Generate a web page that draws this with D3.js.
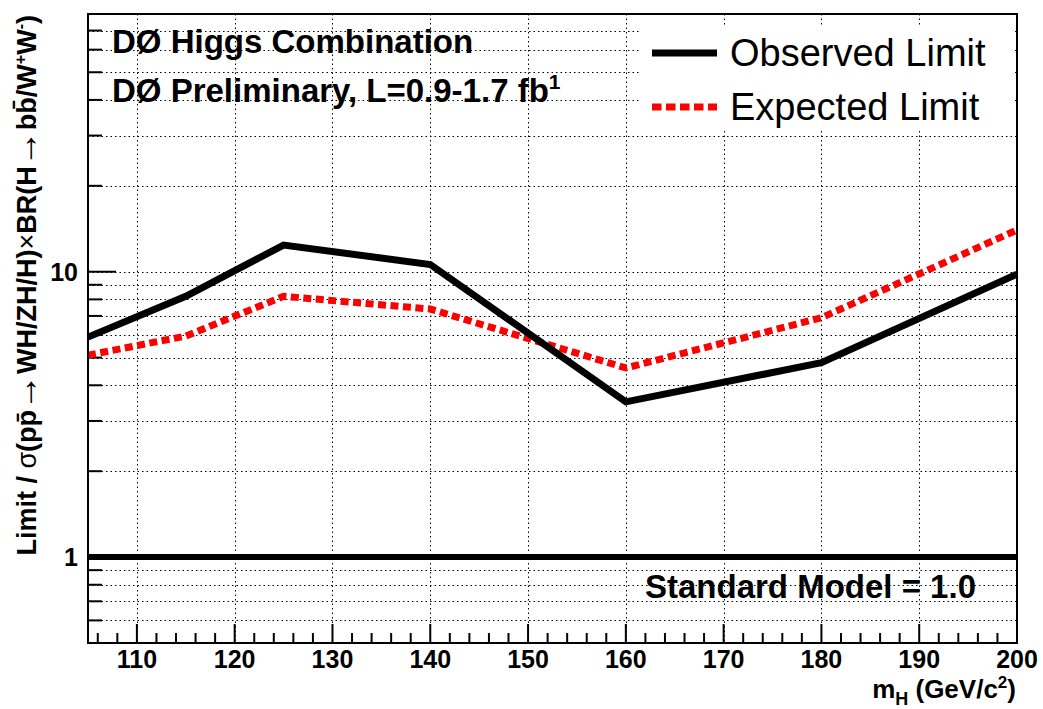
<!DOCTYPE html>
<html>
<head>
<meta charset="utf-8">
<script src="https://cdn.jsdelivr.net/npm/d3@7"></script>
<style>
  html, body { margin: 0; padding: 0; background: #fff; }
  svg text { font-family: "Liberation Sans", Arial, Helvetica, sans-serif; }
</style>
</head>
<body>
<svg id="chart" width="1043" height="709"></svg>
<script>
// Higgs mass points (GeV/c^2)
const masses = [105, 115, 125, 140, 160, 180, 200];
// Limit / SM ratio
const observedLimit = [5.9, 8.2, 12.4, 10.6, 3.5, 4.8, 9.8];
const expectedLimit = [5.1, 5.95, 8.2, 7.4, 4.6, 6.9, 14.0];
const smValue = 1.0;

const xMajorTicks = [110, 120, 130, 140, 150, 160, 170, 180, 190, 200];
const yMajorTicks = [1, 10];
const yTickLabels = ["1", "10"];
const yMinorTicks = [0.6, 0.7, 0.8, 0.9, 2, 3, 4, 5, 6, 7, 8, 9, 20, 30, 40, 50, 60, 70];
const legendLabels = ["Observed Limit", "Expected Limit"];

const svg = d3.select("#chart");
const W = 1043, H = 709;
const m = { left: 88, right: 1017, top: 14, bottom: 643 };

const x = d3.scaleLinear().domain([105, 200]).range([m.left, m.right]);
const y = d3.scaleLog().domain([0.5, 80]).range([m.bottom, m.top]);

svg.append("rect").attr("width", W).attr("height", H).attr("fill", "#fff");

// grid
const grid = svg.append("g").attr("stroke", "#000").attr("stroke-width", 1)
  .attr("stroke-dasharray", "1.5,3");
grid.selectAll("line.gx").data(xMajorTicks.filter(d => d < 200)).join("line")
  .attr("x1", d => Math.round(x(d)) + 0.5).attr("x2", d => Math.round(x(d)) + 0.5)
  .attr("y1", m.top).attr("y2", m.bottom);
grid.selectAll("line.gy").data(yMinorTicks.concat(yMajorTicks)).join("line")
  .attr("x1", m.left).attr("x2", m.right)
  .attr("y1", d => Math.round(y(d)) + 0.5).attr("y2", d => Math.round(y(d)) + 0.5);

// axes ticks
const ax = svg.append("g").attr("stroke", "#000").attr("stroke-width", 2);
const xMinor = d3.range(106, 200, 2).filter(d => d % 10 !== 0);
ax.selectAll("line.xmaj").data(xMajorTicks).join("line")
  .attr("x1", d => x(d)).attr("x2", d => x(d)).attr("y1", m.bottom).attr("y2", m.bottom - 19);
ax.selectAll("line.xmin").data(xMinor).join("line")
  .attr("x1", d => x(d)).attr("x2", d => x(d)).attr("y1", m.bottom).attr("y2", m.bottom - 10);
ax.selectAll("line.ymaj").data(yMajorTicks).join("line")
  .attr("x1", m.left).attr("x2", m.left + 28).attr("y1", d => y(d)).attr("y2", d => y(d));
ax.selectAll("line.ymin").data(yMinorTicks).join("line")
  .attr("x1", m.left).attr("x2", m.left + 14).attr("y1", d => y(d)).attr("y2", d => y(d));

// tick labels
svg.selectAll("text.xl").data(xMajorTicks).join("text")
  .attr("x", d => x(d)).attr("y", 668).attr("text-anchor", "middle")
  .attr("font-size", 25).attr("font-weight", "bold").text(d => d);
svg.selectAll("text.yl").data(yMajorTicks).join("text")
  .attr("x", 78).attr("y", d => y(d) + 9).attr("text-anchor", "end")
  .attr("font-size", 25).attr("font-weight", "bold").text((d, i) => yTickLabels[i]);

// SM reference line
svg.append("line").attr("x1", m.left).attr("x2", m.right)
  .attr("y1", y(smValue)).attr("y2", y(smValue))
  .attr("stroke", "#000").attr("stroke-width", 6);

const line = d3.line().x(d => x(d[0])).y(d => y(d[1]));
svg.append("path").datum(masses.map((mm, i) => [mm, expectedLimit[i]]))
  .attr("d", line).attr("fill", "none").attr("stroke", "#ff0000")
  .attr("stroke-width", 7).attr("stroke-dasharray", "8,4.5");
svg.append("path").datum(masses.map((mm, i) => [mm, observedLimit[i]]))
  .attr("d", line).attr("fill", "none").attr("stroke", "#000")
  .attr("stroke-width", 7).attr("stroke-linejoin", "miter");

// legend
const lg = svg.append("g");
lg.append("rect").attr("x", 640).attr("y", 27).attr("width", 372).attr("height", 104).attr("fill", "#fff");
lg.append("line").attr("x1", 652).attr("x2", 717).attr("y1", 53).attr("y2", 53)
  .attr("stroke", "#000").attr("stroke-width", 7);
lg.append("line").attr("x1", 652).attr("x2", 717).attr("y1", 107).attr("y2", 107)
  .attr("stroke", "#ff0000").attr("stroke-width", 7).attr("stroke-dasharray", "9.5,4.5");
lg.selectAll("text").data(legendLabels).join("text")
  .attr("x", 730).attr("y", (d, i) => 66 + i * 54)
  .attr("font-size", 38).text(d => d);

// frame
svg.append("rect").attr("x", m.left).attr("y", m.top)
  .attr("width", m.right - m.left).attr("height", m.bottom - m.top)
  .attr("fill", "none").attr("stroke", "#000").attr("stroke-width", 2);

// header text
svg.append("text").attr("x", 112).attr("y", 53).attr("font-size", 33).attr("font-weight", "bold")
  .text("DØ Higgs Combination");
const t2 = svg.append("text").attr("x", 112).attr("y", 102).attr("font-size", 33).attr("font-weight", "bold");
t2.append("tspan").text("DØ Preliminary, L=0.9-1.7 fb");
t2.append("tspan").attr("dy", -13).attr("font-size", 21).text("1");

svg.append("text").attr("x", 645).attr("y", 598).attr("font-size", 33).attr("font-weight", "bold")
  .text("Standard Model = 1.0");

// x axis title
const xt = svg.append("text").attr("x", 1016).attr("y", 698).attr("text-anchor", "end")
  .attr("font-size", 26).attr("font-weight", "bold");
xt.append("tspan").text("m");
xt.append("tspan").attr("dy", 7).attr("font-size", 18).text("H");
xt.append("tspan").attr("dy", -7).text(" (GeV/c");
xt.append("tspan").attr("dy", -10).attr("font-size", 17).text("2");
xt.append("tspan").attr("dy", 10).text(")");

// y axis title
const yt = svg.append("text").attr("transform", "translate(36,15) rotate(-90)")
  .attr("text-anchor", "end").attr("font-size", 27).attr("font-weight", "bold");
yt.append("tspan").text("Limit / ");
yt.append("tspan").attr("font-weight", "normal").text("σ");
yt.append("tspan").text("(pp\u0304");
yt.append("tspan").attr("font-weight", "normal").attr("font-size", 36).attr("dy", 1).text("→");
yt.append("tspan").attr("dy", -1).text("WH/ZH/H)");
yt.append("tspan").attr("font-weight", "normal").text("×");
yt.append("tspan").text("BR(H");
yt.append("tspan").attr("font-weight", "normal").attr("font-size", 36).attr("dy", 1).text("→");
yt.append("tspan").attr("dy", -1).text("bb\u0304/W");
yt.append("tspan").attr("dy", -10).attr("font-size", 16).text("+");
yt.append("tspan").attr("dy", 10).text("W");
yt.append("tspan").attr("dy", -10).attr("font-size", 16).text("-");
yt.append("tspan").attr("dy", 10).text(")");
</script>
</body>
</html>
